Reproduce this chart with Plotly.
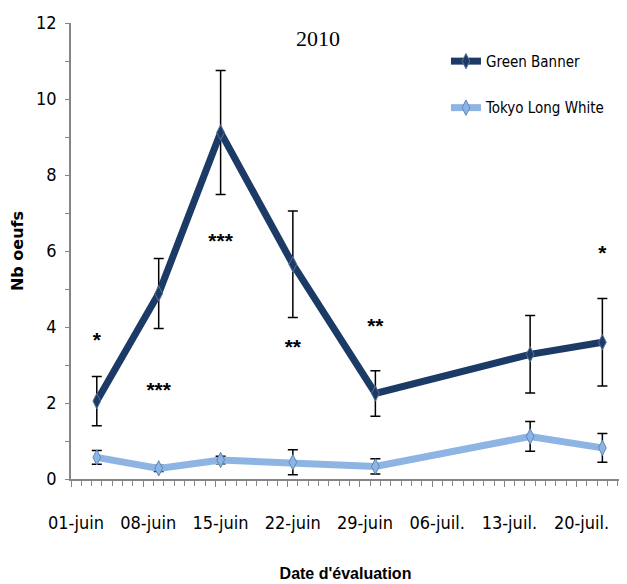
import plotly.graph_objects as go

# evaluation dates (2010)
dates = ["2010-06-03", "2010-06-09", "2010-06-15", "2010-06-22",
         "2010-06-30", "2010-07-15", "2010-07-22"]

# mean number of eggs and error bars
green_banner = [2.05, 4.88, 9.12, 5.65, 2.25, 3.28, 3.6]
green_banner_err = [0.65, 0.92, 1.63, 1.4, 0.6, 1.02, 1.15]
tokyo_white = [0.57, 0.28, 0.5, 0.44, 0.33, 1.12, 0.82]
tokyo_white_err = [0.18, 0.08, 0.1, 0.33, 0.2, 0.39, 0.38]

# significance stars
star_dates = ["2010-06-03", "2010-06-09", "2010-06-15", "2010-06-22",
              "2010-06-30", "2010-07-22"]
star_y = [3.62, 2.3, 6.22, 3.42, 3.98, 5.9]
star_text = ["*", "***", "***", "**", "**", "*"]

# weekly tick labels (placed at start of each day slot)
tick_dates = ["2010-05-31 12:00", "2010-06-07 12:00", "2010-06-14 12:00",
              "2010-06-21 12:00", "2010-06-28 12:00", "2010-07-05 12:00",
              "2010-07-12 12:00", "2010-07-19 12:00"]
tick_labels = ["01-juin", "08-juin", "15-juin", "22-juin", "29-juin",
               "06-juil.", "13-juil.", "20-juil."]

DARK = "#1b3a66"
LIGHT = "#8db4e2"
NARROW = "DejaVu Sans Condensed, sans-serif"
SANS = "Liberation Sans, sans-serif"
AXIS_GREY = "#868686"
x_range = ["2010-05-31 12:00", "2010-07-23 17:00"]

fig = go.Figure()

fig.add_trace(go.Scatter(
    x=dates, y=green_banner, name="Green Banner",
    mode="lines+markers",
    line=dict(color=DARK, width=7),
    marker=dict(symbol="diamond-tall", size=11, color=DARK,
                line=dict(color="#5a7396", width=1)),
    error_y=dict(type="data", array=green_banner_err, color="black",
                 thickness=1.5, width=5),
    legendgroup="a",
))

fig.add_trace(go.Scatter(
    x=dates, y=tokyo_white, name="Tokyo Long White",
    mode="lines+markers",
    line=dict(color=LIGHT, width=7),
    marker=dict(symbol="diamond-tall", size=11, color=LIGHT,
                line=dict(color="#5f86b8", width=1)),
    error_y=dict(type="data", array=tokyo_white_err, color="black",
                 thickness=1.5, width=5),
    legendgroup="b",
))

fig.add_trace(go.Scatter(
    x=star_dates, y=star_y, text=star_text, mode="text",
    textfont=dict(family=SANS, size=21, color="black", weight="bold"),
    showlegend=False, hoverinfo="skip",
))

fig.add_annotation(text="2010", xref="paper", yref="paper",
                   x=0.45, y=0.967, xanchor="center", yanchor="middle",
                   showarrow=False,
                   font=dict(family="Liberation Serif, serif", size=22))

fig.update_layout(
    width=627, height=584,
    margin=dict(l=63, r=15, t=15, b=113),
    paper_bgcolor="white", plot_bgcolor="white",
    font=dict(family=SANS, size=16, color="black"),
    showlegend=True,
    legend=dict(x=0.683, y=0.952, xanchor="left", yanchor="top",
                bgcolor="rgba(0,0,0,0)", tracegroupgap=24,
                font=dict(family=NARROW, size=15)),
    xaxis=dict(
        type="date", range=x_range, automargin=False,
        tickmode="array", tickvals=tick_dates, ticktext=tick_labels,
        ticklabelshift=5, ticklabelstandoff=21,
        ticks="outside", ticklen=6, tickcolor=AXIS_GREY, tickwidth=1,
        minor=dict(dtick=86400000, tick0="2010-05-31 12:00",
                   ticks="outside", ticklen=5, tickcolor=AXIS_GREY),
        showline=True, linecolor=AXIS_GREY, linewidth=1.5,
        showgrid=False, zeroline=False,
        tickfont=dict(family=NARROW, size=18),
        title=dict(text="<b>Date d'évaluation</b>", standoff=35,
                   font=dict(family=SANS, size=16)),
    ),
    xaxis2=dict(
        type="date", range=x_range, overlaying="x", anchor="y",
        tickmode="array", tickvals=tick_dates, showticklabels=False,
        ticks="inside", ticklen=6, tickcolor=AXIS_GREY,
        minor=dict(dtick=86400000, tick0="2010-05-31 12:00",
                   ticks="inside", ticklen=5, tickcolor=AXIS_GREY),
        showline=False, showgrid=False, zeroline=False,
    ),
    yaxis=dict(
        range=[0, 12], automargin=False,
        tickmode="array", tickvals=[0, 2, 4, 6, 8, 10, 12],
        ticks="outside", ticklen=4, tickcolor=AXIS_GREY,
        ticklabelstandoff=5,
        minor=dict(dtick=1, ticks="outside", ticklen=4, tickcolor=AXIS_GREY),
        showline=True, linecolor=AXIS_GREY, linewidth=1.5,
        showgrid=False, zeroline=False,
        tickfont=dict(family=NARROW, size=18),
        title=dict(text="<b>Nb oeufs</b>", standoff=19,
                   font=dict(family="DejaVu Sans, sans-serif", size=16)),
    ),
    yaxis2=dict(
        range=[0, 12], overlaying="y", anchor="x",
        tickmode="array", tickvals=[0, 2, 4, 6, 8, 10, 12],
        showticklabels=False,
        ticks="inside", ticklen=4, tickcolor=AXIS_GREY,
        minor=dict(dtick=1, ticks="inside", ticklen=4, tickcolor=AXIS_GREY),
        showline=False, showgrid=False, zeroline=False,
    ),
)

fig.write_html("out.html")
